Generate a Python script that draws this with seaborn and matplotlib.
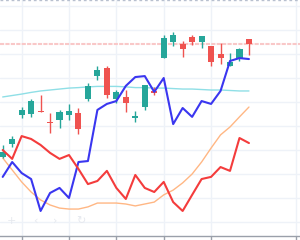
import numpy as np
import pandas as pd
import matplotlib
matplotlib.use("Agg")
import matplotlib.pyplot as plt
import seaborn as sns

# ---- data ----
opens  = [37.1, 42.5, 54.6, 55.0, 56.3, 51.7, 52.5, 54.6, 55.4, 61.3, 70.8, 74.2, 61.3, 62.1,
          53.3, 57.9, 64.4, 78.3, 85.0, 84.2, 87.1, 85.0, 83.3, 80.0, 75.0, 77.9, 86.2]
highs  = [42.1, 45.8, 57.9, 61.3, 62.9, 55.4, 56.7, 59.2, 57.5, 67.9, 75.0, 75.0, 65.0, 65.0,
          56.3, 67.1, 66.3, 87.9, 89.2, 85.4, 87.9, 87.5, 83.3, 84.6, 80.4, 82.5, 86.2]
lows   = [36.7, 41.3, 53.3, 53.8, 55.8, 47.1, 49.2, 52.5, 46.7, 60.4, 69.2, 61.7, 59.6, 55.8,
          51.7, 56.7, 62.9, 78.3, 83.3, 78.8, 83.8, 82.5, 75.0, 75.8, 75.0, 77.1, 79.6]
closes = [39.2, 44.6, 56.7, 60.4, 55.9, 51.3, 55.8, 56.3, 48.8, 66.7, 73.3, 62.9, 64.2, 59.6,
          54.2, 67.1, 63.9, 86.7, 87.9, 82.1, 85.0, 87.5, 76.7, 78.3, 76.7, 82.1, 84.2]
blue_line   = [28.8, 35.0, 30.4, 27.9, 14.6, 22.1, 24.2, 20.0, 35.0, 35.4, 56.7, 59.2, 60.4, 66.7,
               70.4, 70.8, 64.2, 70.0, 50.8, 57.5, 53.8, 60.4, 59.2, 64.6, 77.1, 78.3, 77.9]
red_line    = [40.0, 36.3, 45.8, 44.6, 42.1, 38.8, 36.3, 37.9, 32.1, 25.8, 27.1, 31.3, 24.2, 19.6,
               29.6, 24.2, 22.5, 26.7, 18.3, 14.6, 21.3, 27.9, 28.8, 32.9, 31.3, 45.0, 42.9]
orange_line = [36.7, 31.7, 26.7, 22.5, 19.2, 17.1, 15.8, 15.4, 15.4, 16.3, 17.9, 17.9, 17.9, 17.5,
               16.7, 17.5, 18.3, 21.3, 23.3, 26.3, 30.0, 35.0, 40.8, 46.3, 49.6, 53.8, 57.9]
cyan_line   = [62.1, 62.7, 63.3, 64.0, 64.6, 65.0, 65.4, 65.8, 66.0, 66.3, 66.5, 66.5, 66.5, 66.3,
               66.0, 66.0, 65.8, 65.8, 65.6, 65.4, 65.4, 65.2, 65.0, 65.0, 64.8, 64.6, 64.6]
time_ticks = [2, 7, 12, 17, 22, 31]

idx = np.arange(len(opens))
df = pd.DataFrame({"i": idx, "o": opens, "h": highs, "l": lows, "c": closes,
                   "blue": blue_line, "red": red_line, "orange": orange_line, "cyan": cyan_line})

sns.set_theme(style="white")
fig = plt.figure(figsize=(3.0, 2.4), dpi=100)
ax = fig.add_axes([0, 4 / 240, 1, 236 / 240])

UP, DOWN = "#26a69a", "#ef5350"

# grid
for t in time_ticks:
    ax.axvline(t, color="#eef2f8", lw=1, zorder=0)
for v in range(10, 101, 10):
    ax.axhline(v, color="#eef2f8", lw=1, zorder=0)

# lines
sns.lineplot(data=df, x="i", y="cyan", ax=ax, color="#8fdfe6", lw=1.0, zorder=2)
sns.lineplot(data=df, x="i", y="orange", ax=ax, color="#ffb784", lw=1.0, zorder=2)

# candles
up = df["c"] >= df["o"]
colors = np.where(up, UP, DOWN)
ax.vlines(df["i"], df["l"], df["h"], colors=colors, lw=1.0, zorder=3)
body_bottom = np.minimum(df["o"], df["c"])
body_h = np.maximum(np.abs(df["c"] - df["o"]), 0.4)
ax.bar(df["i"], body_h, bottom=body_bottom, width=0.64, color=colors, lw=0, zorder=3)

sns.lineplot(data=df, x="i", y="blue", ax=ax, color="#3a36f0", lw=1.5, zorder=4)
sns.lineplot(data=df, x="i", y="red", ax=ax, color="#f43c3c", lw=1.5, zorder=4)

# last price line
ax.axhline(closes[-1], color="#f9c8c8", lw=1.5, ls=(0, (2, 0.6)), zorder=1)
# top dashed border
ax.axhline(102.3, color="#b8c0cf", lw=1.0, ls=(0, (2, 2)), zorder=5)

# faint toolbar
for x, s in [(0.9, "+"), (3.5, "‹"), (5.5, "›"), (8.2, "↻")]:
    ax.text(x, 10.5, s, color="#e6e9ef", fontsize=8, ha="center", va="center", zorder=1)

ax.set_xlim(-0.285, 31.39)
ax.set_ylim(4.17, 102.5)
ax.set_xticks(time_ticks)
ax.set_xticklabels([])
ax.set_yticks([])
ax.set_xlabel("")
ax.set_ylabel("")
for s in ["top", "left", "right"]:
    ax.spines[s].set_visible(False)
ax.spines["bottom"].set_color("#9aa0aa")
ax.spines["bottom"].set_linewidth(1.0)
ax.tick_params(axis="x", bottom=True, length=4, width=1, color="#9aa0aa", direction="out")
ax.set_facecolor("white")
fig.patch.set_facecolor("white")

fig.savefig("out.png", dpi=100)
